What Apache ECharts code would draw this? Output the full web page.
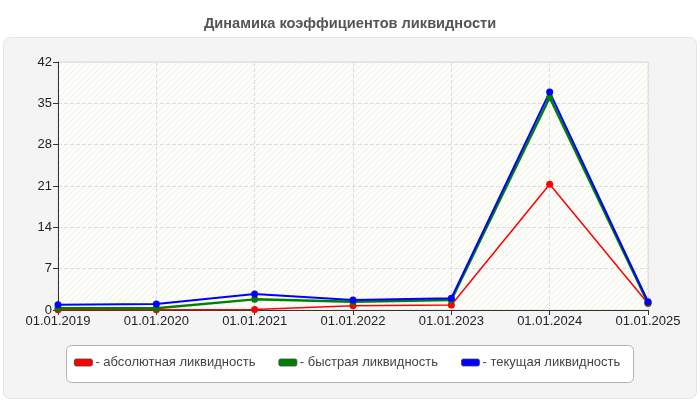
<!DOCTYPE html>
<html><head><meta charset="utf-8">
<script src="https://cdn.jsdelivr.net/npm/echarts@6/dist/echarts.min.js"></script>
<style>html,body{margin:0;padding:0;background:#fff}#c{width:700px;height:400px}</style>
</head><body><div id="c"></div>
<script>
const categories = ['01.01.2019','01.01.2020','01.01.2021','01.01.2022','01.01.2023','01.01.2024','01.01.2025'];
const absoluteLiq = [0.05, 0.05, 0.1, 0.7, 0.85, 21.3, 1.1];
const quickLiq = [0.3, 0.3, 1.8, 1.4, 1.7, 36.0, 1.2];
const currentLiq = [0.9, 1.0, 2.7, 1.7, 2.0, 36.9, 1.4];
const yTicks = [0, 7, 14, 21, 28, 35, 42];

// hatch pattern for plot background
const pc = document.createElement('canvas');
pc.width = 6; pc.height = 6;
const g = pc.getContext('2d');
g.fillStyle = '#fdfdf9'; g.fillRect(0,0,6,6);
g.strokeStyle = '#f0f0eb'; g.lineWidth = 1;
g.beginPath(); g.moveTo(0,6); g.lineTo(6,0); g.stroke();

const FONT = 'Arial, "Liberation Sans", sans-serif';
const chart = echarts.init(document.getElementById('c'));
function mk(name, data, color, w) {
  return {
    name: name, type: 'line', data: data,
    symbol: 'circle', symbolSize: 7,
    itemStyle: {color: color},
    lineStyle: {color: color, width: w},
    z: 3
  };
}
chart.setOption({
  animation: false,
  backgroundColor: '#fff',
  graphic: [{
    type: 'rect', z: -10,
    shape: {x: 3.5, y: 37.5, width: 693, height: 361, r: 7},
    style: {fill: '#f4f4f4', stroke: '#e4e4e4', lineWidth: 1}
  }, {
    type: 'rect', z: -5,
    shape: {x: 66.5, y: 345.5, width: 567, height: 37, r: 5},
    style: {fill: '#fff', stroke: '#b4b4b4', lineWidth: 1}
  }],
  title: {
    text: 'Динамика коэффициентов ликвидности',
    left: 'center', top: 11,
    textStyle: {fontFamily: FONT, fontSize: 14.6, fontWeight: 'bold', color: '#555'}
  },
  legend: {
    top: 356, left: 74,
    data: ['- абсолютная ликвидность', '- быстрая ликвидность', '- текущая ликвидность'],
    icon: 'roundRect', itemWidth: 18, itemHeight: 7, itemGap: 23,
    padding: [0, 0, 0, 0],
    textStyle: {fontFamily: FONT, fontSize: 13, color: '#444', padding: [0,0,0,-2]},
    itemStyle: {borderColor: '#444', borderWidth: 0.8}
  },
  grid: {
    left: 58, right: 52, top: 62, bottom: 90,
    show: true, backgroundColor: {image: pc, repeat: 'repeat'},
    borderColor: '#ddd', borderWidth: 1
  },
  xAxis: {
    type: 'category', data: categories, boundaryGap: false,
    axisLine: {lineStyle: {color: '#333', width: 1}},
    axisTick: {show: true, length: 5, lineStyle: {color: '#333'}},
    axisLabel: {fontFamily: FONT, fontSize: 13, color: '#222', margin: 5},
    splitLine: {show: true, lineStyle: {color: '#ddd', type: 'dashed'}}
  },
  yAxis: {
    type: 'value', min: yTicks[0], max: yTicks[yTicks.length-1], interval: 7,
    axisLine: {show: true, lineStyle: {color: '#333', width: 1}},
    axisTick: {show: true, length: 5, lineStyle: {color: '#333'}},
    axisLabel: {fontFamily: FONT, fontSize: 13, color: '#222', margin: 6},
    splitLine: {show: true, lineStyle: {color: '#ddd', type: 'dashed'}}
  },
  series: [
    mk('- абсолютная ликвидность', absoluteLiq, '#ff0000', 1.5),
    mk('- быстрая ликвидность', quickLiq, '#008000', 2.5),
    mk('- текущая ликвидность', currentLiq, '#0000ff', 2)
  ]
});
</script></body></html>
